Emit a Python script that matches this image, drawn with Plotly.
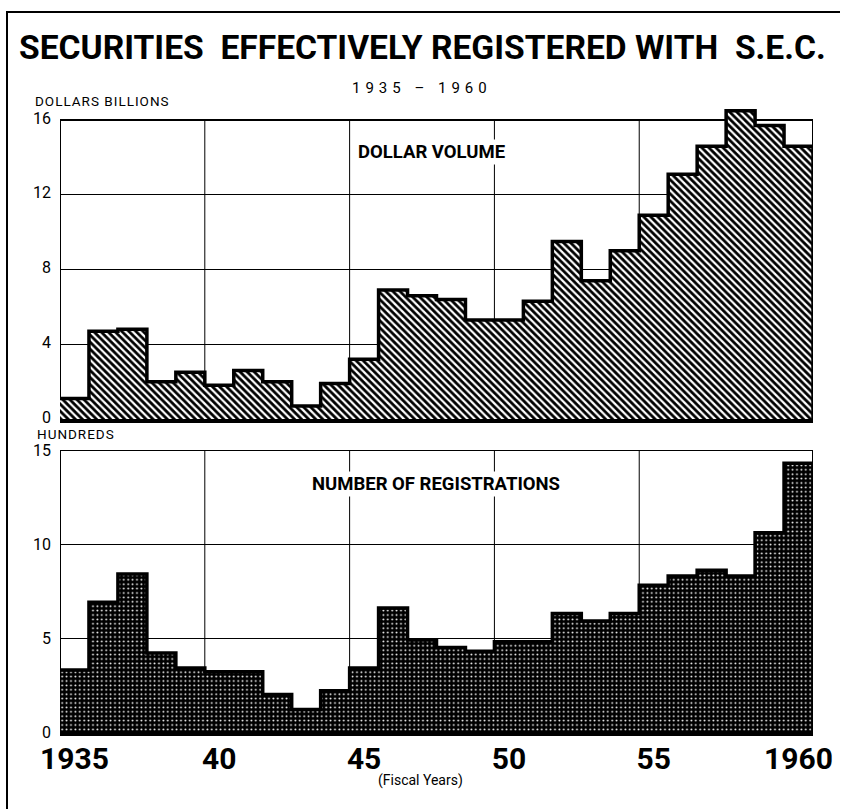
import plotly.graph_objects as go

# ---------------- data ----------------
years = list(range(1935, 1961))
dollar_volume = [1.1, 4.7, 4.8, 2.0, 2.5, 1.8, 2.6, 2.0, 0.7, 1.9, 3.2, 6.9, 6.6,
                 6.4, 5.3, 5.3, 6.3, 9.5, 7.4, 9.0, 10.9, 13.1, 14.6, 16.5, 15.7, 14.6]
registrations = [3.3, 6.9, 8.4, 4.2, 3.4, 3.2, 3.2, 2.0, 1.2, 2.2, 3.4, 6.6, 4.9,
                 4.5, 4.3, 4.8, 4.8, 6.3, 5.9, 6.3, 7.8, 8.3, 8.6, 8.3, 10.6, 14.3]
x_tick_years = [1935, 1940, 1945, 1950, 1955, 1960]
x_tick_text = ["1935", "40", "45", "50", "55", "1960"]
grid_years = [1940, 1945, 1950, 1955]
top_ticks = [0, 4, 8, 12, 16]
bottom_ticks = [0, 5, 10, 15]

W, H = 842, 809
FONT = "Roboto, Liberation Sans, Arial, sans-serif"

def px_x(p):
    return p / W

def px_y(p):
    return 1 - p / H

x_dom = [px_x(60), px_x(813)]
x_lo, x_hi = years[0], years[-1] + 1
top_max = 16
top_range = [0, 16.7]
bottom_max = 15

fig = go.Figure()

centers = [y + 0.5 for y in years]
edges = years + [x_hi, x_hi]

# top panel
fig.add_trace(go.Bar(
    x=centers, y=dollar_volume, width=1, xaxis="x", yaxis="y",
    marker=dict(color="white", line=dict(width=0),
                pattern=dict(shape="\\", fgcolor="black", bgcolor="white", size=5, solidity=0.55)),
    cliponaxis=False, showlegend=False, hoverinfo="skip"))
fig.add_trace(go.Scatter(
    x=edges, y=dollar_volume + [dollar_volume[-1], 0], xaxis="x", yaxis="y",
    mode="lines", line=dict(color="black", width=3.5, shape="hv"),
    showlegend=False, hoverinfo="skip", cliponaxis=False))

# bottom panel
fig.add_trace(go.Bar(
    x=centers, y=registrations, width=1, xaxis="x2", yaxis="y2",
    marker=dict(color="black", line=dict(width=0),
                pattern=dict(shape=".", fgcolor="white", bgcolor="black", size=4.4, solidity=0.15)),
    showlegend=False, hoverinfo="skip"))
fig.add_trace(go.Scatter(
    x=edges, y=registrations + [registrations[-1], 0], xaxis="x2", yaxis="y2",
    mode="lines", line=dict(color="black", width=3.5, shape="hv"),
    showlegend=False, hoverinfo="skip"))

shapes = []
for xr, yr, ymax in (("x", "y", top_max), ("x2", "y2", bottom_max)):
    shapes.append(dict(type="rect", xref=xr, yref=yr, x0=x_lo, x1=x_hi, y0=0, y1=ymax,
                       line=dict(color="black", width=2), layer="below"))
    for g in grid_years:
        shapes.append(dict(type="line", xref=xr, yref=yr, x0=g, x1=g, y0=0, y1=ymax,
                           line=dict(color="black", width=1), layer="below"))
# outer frame (left and top)
shapes.append(dict(type="line", xref="paper", yref="paper", x0=px_x(7), x1=px_x(7),
                   y0=0, y1=px_y(12), line=dict(color="black", width=2)))
shapes.append(dict(type="line", xref="paper", yref="paper", x0=px_x(6), x1=px_x(840),
                   y0=px_y(12), y1=px_y(12), line=dict(color="black", width=2)))

xaxis_common = dict(range=[x_lo, x_hi], domain=x_dom, showgrid=False, zeroline=False,
                    showline=True, linecolor="black", linewidth=3.5, ticks="",
                    fixedrange=True, automargin=False)
yaxis_common = dict(showgrid=True, gridcolor="black", gridwidth=1, zeroline=False,
                    showline=False, ticks="", ticklabelstandoff=8, automargin=False,
                    tickfont=dict(family=FONT, size=16, color="black"), fixedrange=True)

annotations = [
    dict(text="<b>SECURITIES  EFFECTIVELY REGISTERED WITH  S.E.C.</b>", xref="paper", yref="paper",
         x=px_x(422), y=px_y(48), showarrow=False, xanchor="center", yanchor="middle",
         font=dict(family=FONT, size=33.6, color="black")),
    dict(text='<span style="letter-spacing:5px">1935 – 1960</span>', xref="paper", yref="paper",
         x=px_x(422), y=px_y(88), showarrow=False, xanchor="center", yanchor="middle",
         font=dict(family=FONT, size=15, color="black")),
    dict(text='<span style="letter-spacing:1px">DOLLARS BILLIONS</span>', xref="paper", yref="paper",
         x=px_x(33), y=px_y(101), showarrow=False, xanchor="left", yanchor="middle",
         font=dict(family=FONT, size=13.5, color="black")),
    dict(text='<span style="letter-spacing:1px">HUNDREDS</span>', xref="paper", yref="paper",
         x=px_x(35), y=px_y(434), showarrow=False, xanchor="left", yanchor="middle",
         font=dict(family=FONT, size=13.5, color="black")),
    dict(text="<b>DOLLAR VOLUME</b>", xref="paper", yref="paper",
         x=px_x(431), y=px_y(152), showarrow=False, xanchor="center", yanchor="middle",
         bgcolor="white", font=dict(family=FONT, size=18.5, color="black")),
    dict(text="<b>NUMBER OF REGISTRATIONS</b>", xref="paper", yref="paper",
         x=px_x(436), y=px_y(484), showarrow=False, xanchor="center", yanchor="middle",
         bgcolor="white", font=dict(family=FONT, size=18.5, color="black")),
    dict(text="(Fiscal Years)", xref="paper", yref="paper",
         x=px_x(420), y=px_y(780), showarrow=False, xanchor="center", yanchor="middle",
         font=dict(family=FONT, size=14, color="black")),
]

fig.update_layout(
    template="none",
    width=W, height=H, autosize=False,
    margin=dict(l=0, r=0, t=0, b=0, pad=0),
    paper_bgcolor="white", plot_bgcolor="white",
    showlegend=False, bargap=0,
    xaxis=dict(xaxis_common, anchor="y", showticklabels=False),
    yaxis=dict(yaxis_common, domain=[px_y(419), px_y(419 - 16.7 * 299 / 16)], range=top_range,
               tickvals=top_ticks, anchor="x", ticklabelshift=-2),
    xaxis2=dict(xaxis_common, anchor="y2", showticklabels=True,
                tickvals=[y + 0.5 for y in x_tick_years], ticktext=x_tick_text,
                tickfont=dict(family=FONT, size=30, color="black", weight="bold"),
                ticklabelstandoff=-3),
    yaxis2=dict(yaxis_common, domain=[px_y(732), px_y(450)], range=[0, bottom_max],
                tickvals=bottom_ticks, anchor="x2"),
    shapes=shapes,
    annotations=annotations,
)

fig.write_html("out.html", config={"displayModeBar": False},
               post_script="document.body.style.margin='0';document.body.style.overflow='hidden';")
